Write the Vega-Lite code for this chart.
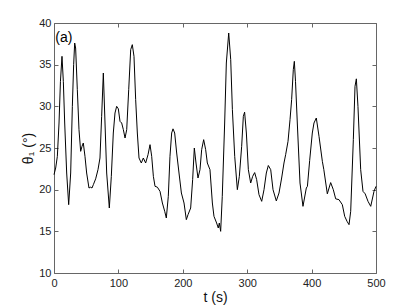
{
  "$schema": "https://vega.github.io/schema/vega-lite/v6.json",
  "width": 322,
  "height": 250,
  "autosize": "none",
  "padding": {"left": 54, "top": 23, "right": 39, "bottom": 35},
  "background": "white",
  "config": {
    "view": {"stroke": null},
    "axis": {
      "labelFont": "Liberation Sans",
      "titleFont": "Liberation Sans",
      "labelFontSize": 11,
      "titleFontSize": 14,
      "titleFontWeight": "normal",
      "labelColor": "#222",
      "titleColor": "#111",
      "domainColor": "#666",
      "tickColor": "#666",
      "grid": false
    }
  },
  "datasets": {
    "series": [
      {"t":0,"theta":21.8},{"t":2.6,"theta":22.6},{"t":5.2,"theta":24},{"t":7.8,"theta":28},{"t":10,"theta":33},{"t":12.4,"theta":36},{"t":14.5,"theta":33},{"t":16.6,"theta":28},{"t":19.7,"theta":22},{"t":22.8,"theta":18.2},{"t":25.9,"theta":22},{"t":28.5,"theta":30},{"t":30.5,"theta":35},{"t":32.1,"theta":37.6},{"t":33.6,"theta":37.0},{"t":36.2,"theta":32},{"t":38.8,"theta":27.2},{"t":41.4,"theta":24.6},{"t":43.5,"theta":25.2},{"t":45.5,"theta":25.6},{"t":48.1,"theta":24},{"t":50.7,"theta":22},{"t":54.3,"theta":20.2},{"t":56.9,"theta":20.3},{"t":59,"theta":20.2},{"t":61.1,"theta":20.6},{"t":64.7,"theta":21.3},{"t":68.3,"theta":22.4},{"t":71.4,"theta":23.8},{"t":74,"theta":28.8},{"t":76.6,"theta":34.0},{"t":79.2,"theta":28},{"t":81.8,"theta":22},{"t":85.9,"theta":17.8},{"t":89,"theta":21.6},{"t":92.1,"theta":26.8},{"t":94.7,"theta":29.2},{"t":97.3,"theta":30},{"t":99.9,"theta":29.7},{"t":102.5,"theta":28.2},{"t":105.1,"theta":28},{"t":107.7,"theta":27.2},{"t":110.3,"theta":26.2},{"t":112.9,"theta":27.2},{"t":116,"theta":32},{"t":119.1,"theta":36.8},{"t":121.6,"theta":37.4},{"t":124.2,"theta":36},{"t":126.8,"theta":30.8},{"t":129.4,"theta":26.8},{"t":132,"theta":23.8},{"t":135.6,"theta":23.2},{"t":138.7,"theta":23.8},{"t":142.3,"theta":23.2},{"t":146,"theta":24.2},{"t":149.1,"theta":25.4},{"t":151.7,"theta":24},{"t":154.3,"theta":21.6},{"t":156.9,"theta":20.4},{"t":160.5,"theta":20.3},{"t":164.6,"theta":19.8},{"t":168.3,"theta":18.4},{"t":171.9,"theta":17.4},{"t":174.4,"theta":16.6},{"t":177.5,"theta":19.2},{"t":180.1,"theta":24},{"t":182.7,"theta":26.8},{"t":184.8,"theta":27.3},{"t":187.4,"theta":26.8},{"t":190.5,"theta":24.4},{"t":194.1,"theta":22},{"t":197.8,"theta":19.6},{"t":201.9,"theta":18.4},{"t":205.5,"theta":16.4},{"t":208.1,"theta":17.0},{"t":212.2,"theta":17.8},{"t":215.3,"theta":21.2},{"t":217.9,"theta":25},{"t":220.5,"theta":23.2},{"t":223.6,"theta":21.4},{"t":226.7,"theta":22.4},{"t":229.3,"theta":24.8},{"t":232.4,"theta":26},{"t":235.5,"theta":24.8},{"t":238.1,"theta":23.2},{"t":242.2,"theta":22.4},{"t":245.9,"theta":18.4},{"t":248.4,"theta":16.8},{"t":252.5,"theta":16.0},{"t":255.1,"theta":15.4},{"t":256.7,"theta":16},{"t":258.8,"theta":15.0},{"t":261.3,"theta":19.2},{"t":265,"theta":28},{"t":267.6,"theta":35.2},{"t":271.3,"theta":38.8},{"t":274.4,"theta":35.6},{"t":277,"theta":29.6},{"t":280.6,"theta":24},{"t":284.7,"theta":20},{"t":287.8,"theta":21.6},{"t":291.4,"theta":25.2},{"t":294,"theta":28.8},{"t":296,"theta":29.3},{"t":298.7,"theta":26.8},{"t":301.8,"theta":22.4},{"t":305.4,"theta":20.8},{"t":308.5,"theta":21.6},{"t":311.6,"theta":22.05},{"t":314.7,"theta":21.2},{"t":318.3,"theta":19.4},{"t":322.5,"theta":18.6},{"t":326.1,"theta":20},{"t":329.7,"theta":22},{"t":332.8,"theta":22.9},{"t":336.5,"theta":22.4},{"t":340.1,"theta":20},{"t":345.2,"theta":18.65},{"t":349.4,"theta":19.6},{"t":353.5,"theta":21.4},{"t":357.1,"theta":23.2},{"t":359.7,"theta":24.2},{"t":363.4,"theta":25.8},{"t":366.5,"theta":28.4},{"t":369,"theta":30.8},{"t":371.6,"theta":34.4},{"t":373.2,"theta":35.4},{"t":375,"theta":33},{"t":377.8,"theta":28},{"t":382,"theta":20.8},{"t":386.6,"theta":18.0},{"t":391.8,"theta":20.2},{"t":393.5,"theta":20.4},{"t":397,"theta":23.5},{"t":401.1,"theta":26.8},{"t":403.7,"theta":28},{"t":407.3,"theta":28.6},{"t":411.5,"theta":26.4},{"t":416.7,"theta":23.4},{"t":419,"theta":22.4},{"t":424.4,"theta":19.5},{"t":429.6,"theta":20.85},{"t":433.7,"theta":20.0},{"t":437.4,"theta":18.9},{"t":442.5,"theta":18.8},{"t":447.7,"theta":18.2},{"t":451.4,"theta":16.8},{"t":455,"theta":16.2},{"t":458.1,"theta":15.8},{"t":460.7,"theta":17.4},{"t":464.8,"theta":26},{"t":467.4,"theta":32.4},{"t":469.5,"theta":33.3},{"t":472,"theta":30},{"t":476.2,"theta":22.4},{"t":479.8,"theta":19.8},{"t":483.2,"theta":19.5},{"t":487.6,"theta":18.6},{"t":491.8,"theta":18.0},{"t":496.9,"theta":19.8},{"t":500,"theta":20.4}
    ],
    "label": [{"t": 2, "theta": 38.2, "text": "(a)"}]
  },
  "layer": [
    {
      "data": {"name": "series"},
      "mark": {"type": "line", "color": "black", "strokeWidth": 1},
      "encoding": {
        "x": {
          "field": "t", "type": "quantitative",
          "scale": {"domain": [0, 500], "nice": false, "zero": false},
          "axis": {"orient": "bottom", "title": "t (s)", "values": [0,100,200,300,400,500], "tickSize": -4, "labelPadding": 8, "titlePadding": 2, "labelFlush": false}
        },
        "y": {
          "field": "theta", "type": "quantitative",
          "scale": {"domain": [10, 40], "nice": false, "zero": false},
          "axis": {"orient": "left", "title": "θ₁ (°)", "values": [10,15,20,25,30,35,40], "tickSize": -4, "labelPadding": 7, "titlePadding": 3, "labelFlush": false}
        }
      }
    },
    {
      "data": {"name": "series"},
      "mark": {"type": "line", "opacity": 0},
      "encoding": {
        "x": {"field": "t", "type": "quantitative", "axis": {"orient": "top", "title": null, "labels": false, "values": [0,100,200,300,400,500], "tickSize": -4}},
        "y": {"field": "theta", "type": "quantitative", "axis": {"orient": "right", "title": null, "labels": false, "values": [10,15,20,25,30,35,40], "tickSize": -4}}
      }
    },
    {
      "data": {"name": "label"},
      "mark": {"type": "text", "align": "left", "baseline": "middle", "font": "Liberation Sans", "fontSize": 14, "color": "black"},
      "encoding": {
        "x": {"field": "t", "type": "quantitative", "axis": null},
        "y": {"field": "theta", "type": "quantitative", "axis": null},
        "text": {"field": "text"}
      }
    }
  ],
  "resolve": {"axis": {"x": "independent", "y": "independent"}}
}
